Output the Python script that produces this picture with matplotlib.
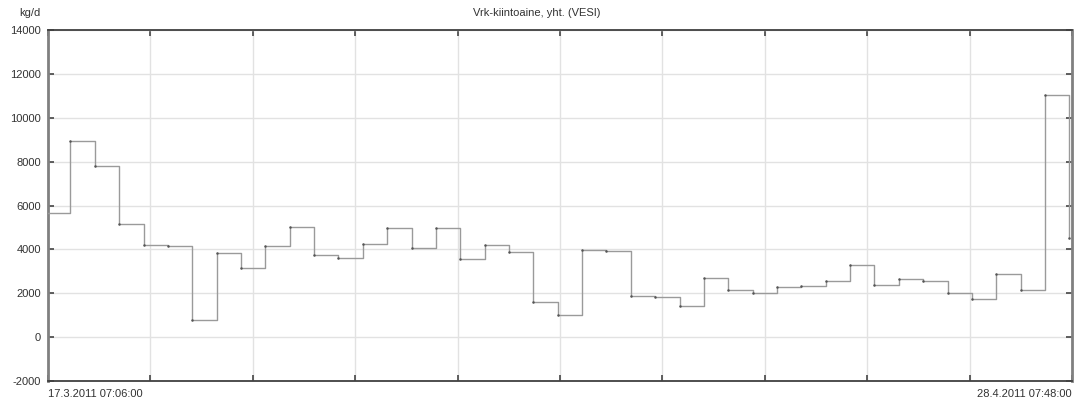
import matplotlib
matplotlib.use('Agg')
import matplotlib.pyplot as plt
import numpy as np

plt.rcParams['font.family'] = ['Liberation Sans', 'DejaVu Sans']

# daily values, kg/d
values = [5650, 8920, 7800, 5150, 4210, 4140, 800, 3820, 3140, 4150,
          5030, 3740, 3620, 4250, 4990, 4060, 4990, 3550, 4200, 3880,
          1580, 1000, 3960, 3940, 1860, 1840, 1430, 2700, 2140, 2000,
          2300, 2310, 2570, 3300, 2390, 2640, 2570, 2030, 1720, 2900,
          2160, 11050, 4500]
# day offsets from 17.3.2011 07:06:00
days = np.arange(len(values)) - 0.08
span_days = 42.03
start_label = '17.3.2011 07:06:00'
end_label = '28.4.2011 07:48:00'
title = 'Vrk-kiintoaine, yht. (VESI)'
unit = 'kg/d'
y_ticks = [-2000, 0, 2000, 4000, 6000, 8000, 10000, 12000, 14000]

fig = plt.figure(figsize=(10.74, 4.0), dpi=100)
ax = fig.add_axes([48 / 1074, 19 / 400, 1024 / 1074, 351 / 400])

ax.plot(days, values, drawstyle='steps-post', color='#9a9a9a', lw=1.0,
        marker='o', ms=0.8, mfc='#555555', mec='#555555', zorder=3)

ax.set_xlim(0, span_days)
ax.set_ylim(-2000, 14000)
ax.set_yticks(y_ticks)
ax.set_yticklabels([str(v) for v in y_ticks])
ax.set_xticks(np.linspace(0, span_days, 11))
ax.set_xticklabels([])

ax.grid(True, color='#e2e2e2', lw=1.0)
ax.set_axisbelow(True)
ax.tick_params(axis='both', direction='in', length=4, width=1.2, color='#444444',
               labelsize=8, labelcolor='#333333', top=True, right=True)
ax.tick_params(axis='y', pad=5)

for side in ['left', 'right']:
    ax.spines[side].set_color('#808080')
    ax.spines[side].set_linewidth(2.0)
for side in ['top', 'bottom']:
    ax.spines[side].set_color('#404040')
    ax.spines[side].set_linewidth(1.3)

ax.text(0, -0.022, start_label, transform=ax.transAxes, ha='left', va='top',
        fontsize=8, color='#333333')
ax.text(1, -0.022, end_label, transform=ax.transAxes, ha='right', va='top',
        fontsize=8, color='#333333')
fig.text(0.5, 1 - 13 / 400, title, ha='center', va='center', fontsize=8,
         color='#333333')
fig.text(30 / 1074, 1 - 13 / 400, unit, ha='center', va='center', fontsize=8,
         color='#333333')

fig.savefig('out.png', dpi=100)
